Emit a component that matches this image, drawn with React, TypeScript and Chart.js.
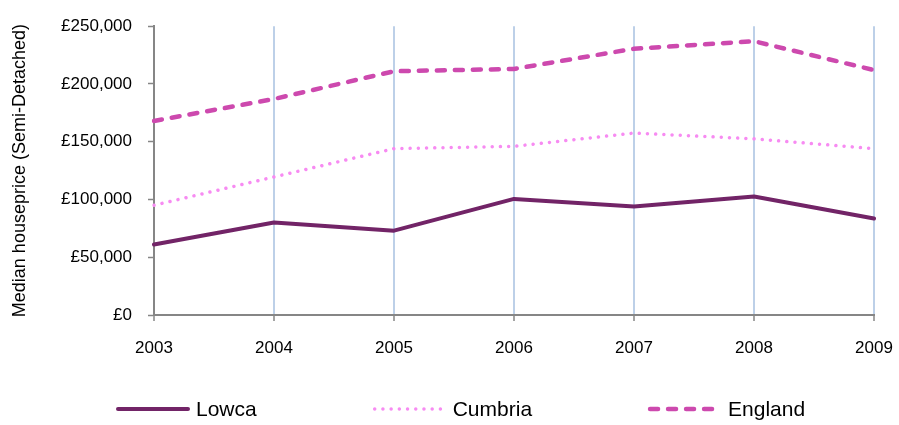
import React, { useEffect, useRef } from "react";
import { Chart, registerables } from "chart.js";

Chart.register(...registerables);

const years = ["2003", "2004", "2005", "2006", "2007", "2008", "2009"];
const lowca = [61000, 80000, 73000, 100500, 94000, 102500, 83500];
const cumbria = [95000, 119500, 144000, 146000, 157500, 152500, 144000];
const england = [168000, 187000, 211000, 213000, 230500, 237000, 212000];
const seriesNames = ["Lowca", "Cumbria", "England"];
const yTitle = "Median houseprice (Semi-Detached)";

const FONT = '"Liberation Sans", Arial, sans-serif';
const AXIS_GREY = "#868686";
const GRID_BLUE = "#BDD0E8";

const legendPlugin = {
  id: "bottomLegend",
  afterDraw(chart: any) {
    const ctx = chart.ctx;
    ctx.save();
    ctx.font = `21px ${FONT}`;
    ctx.textBaseline = "middle";
    ctx.textAlign = "left";
    let x = 118;
    const y = 409;
    const sample = 70;
    const gap = 8;
    const itemGap = 118;
    chart.data.datasets.forEach((ds: any) => {
      ctx.save();
      ctx.strokeStyle = ds.borderColor;
      ctx.lineWidth = ds.borderWidth;
      ctx.setLineDash(ds.borderDash || []);
      ctx.lineCap = ds.borderCapStyle || "butt";
      ctx.beginPath();
      ctx.moveTo(x, y);
      ctx.lineTo(x + sample, y);
      ctx.stroke();
      ctx.restore();
      ctx.fillStyle = "#000000";
      ctx.fillText(ds.label, x + sample + gap, y + 1);
      x += sample + gap + ctx.measureText(ds.label).width + itemGap;
    });
    ctx.restore();
  },
};

export default function App() {
  const ref = useRef<HTMLCanvasElement | null>(null);

  useEffect(() => {
    if (!ref.current) return;
    const chart = new Chart(ref.current, {
      type: "line",
      data: {
        labels: years,
        datasets: [
          {
            label: seriesNames[0],
            data: lowca,
            borderColor: "#722467",
            backgroundColor: "#722467",
            borderWidth: 4,
            borderCapStyle: "round",
            borderJoinStyle: "round",
            pointRadius: 0,
            tension: 0,
          },
          {
            label: seriesNames[1],
            data: cumbria,
            borderColor: "#F78BF2",
            backgroundColor: "#F78BF2",
            borderWidth: 3.5,
            borderDash: [0.01, 8.2],
            borderCapStyle: "round",
            pointRadius: 0,
            tension: 0,
          },
          {
            label: seriesNames[2],
            data: england,
            borderColor: "#CD49AE",
            backgroundColor: "#CD49AE",
            borderWidth: 4.5,
            borderDash: [8, 10],
            borderCapStyle: "round",
            pointRadius: 0,
            tension: 0,
          },
        ],
      },
      options: {
        responsive: false,
        animation: false,
        layout: { padding: { top: 26, right: 25, bottom: 70, left: 0 } },
        plugins: {
          legend: { display: false },
          tooltip: { enabled: false },
        },
        scales: {
          x: {
            offset: false,
            afterFit: (scale: any) => {
              scale.height = 40;
              scale.paddingLeft = 0;
              scale.paddingRight = 0;
            },
            grid: {
              color: (c: any) => (c.index === 0 ? "rgba(0,0,0,0)" : GRID_BLUE),
              lineWidth: 2,
              drawTicks: true,
              tickLength: 6,
              tickColor: AXIS_GREY,
              tickWidth: 1.5,
            },
            border: { display: true, color: AXIS_GREY, width: 2 },
            ticks: {
              color: "#000000",
              font: { family: FONT, size: 17 },
              padding: 17,
              maxRotation: 0,
              autoSkip: false,
            },
          },
          y: {
            min: 0,
            max: 250000,
            afterFit: (scale: any) => {
              scale.width = 154;
            },
            grid: {
              drawOnChartArea: false,
              drawTicks: true,
              tickLength: 6,
              tickColor: AXIS_GREY,
              tickWidth: 1.5,
            },
            border: { display: true, color: AXIS_GREY, width: 2 },
            ticks: {
              stepSize: 50000,
              color: "#000000",
              padding: 16,
              font: { family: FONT, size: 17 },
              callback: (v: any) => "£" + Number(v).toLocaleString("en-GB"),
            },
            title: {
              display: true,
              text: yTitle,
              color: "#000000",
              font: { family: FONT, size: 18 },
              padding: { top: 9, bottom: 0 },
            },
          },
        },
      },
      plugins: [legendPlugin],
    });
    return () => chart.destroy();
  }, []);

  return (
    <div style={{ position: "absolute", left: 0, top: 0, width: 899, height: 425, background: "#ffffff" }}>
      <canvas ref={ref} width={899} height={425} style={{ display: "block" }} />
    </div>
  );
}
